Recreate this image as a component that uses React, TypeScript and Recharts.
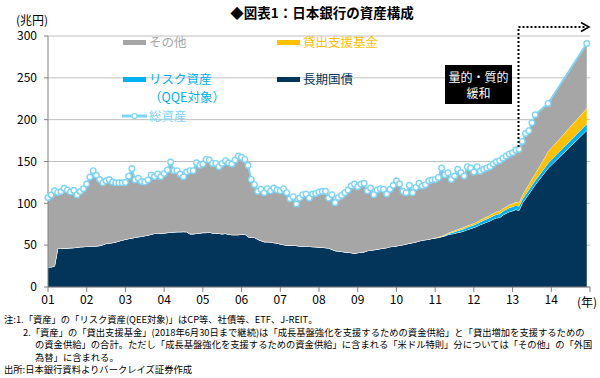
import React from "react";
import { ComposedChart, Area, Line, XAxis, YAxis, CartesianGrid } from "recharts";

// Bank of Japan balance sheet, trillion yen. Monthly Jan 2001 - Aug 2013,
// then end-2013 and end-2014 targets (month index 155 and 167).

const NAVY = "#03355A";
const CYAN = "#00B0F0";
const GOLD = "#FFC000";
const GRAY = "#A6A6A6";
const SKY = "#7FD4F6";
const FONT = "'Noto Sans CJK JP', 'Noto Sans', sans-serif";

const monthlyCount = 152;
const targetMonths = [155, 167];
const months = [...Array(monthlyCount).keys(), ...targetMonths];

// 総資産
const totalAssets = [
  107, 110, 115, 113, 114, 118, 116, 113.5, 115.5, 110, 114, 117.5,
  123, 131.5, 139, 133.5, 128.5, 124.5, 127, 128.5, 125.5, 124.5, 124.5, 124.5,
  125, 132.5, 141.5, 128, 130, 126, 125.5, 128, 134, 132, 135, 132,
  135.8, 139.8, 149.3, 139, 139, 135, 131.8, 137.4, 139, 139, 148.5, 145.4,
  147, 152.5, 151.7, 147.7, 147.7, 143.8, 147.7, 151, 148.5, 147, 151.7, 156.5,
  155, 152.5, 145.4, 128.6, 122.3, 114.3, 116.7, 112.7, 117.5, 115, 118.3, 115.9,
  115, 117.5, 112.7, 105.5, 107.9, 99.2, 106.3, 110.3, 111.1, 106.3, 111.1, 111.9,
  113.5, 114.3, 114.3, 106.3, 110.3, 100.8, 107.1, 109.5, 112.7, 115.9, 120.7, 123,
  119.9, 123, 123.9, 115, 118.3, 110.3, 115.9, 117.5, 116.7, 111.1, 116.7, 121.5,
  127, 123, 114.3, 112.7, 121.5, 112.7, 119, 123.9, 120.7, 122.3, 127, 127.8,
  128.6, 131, 142.2, 134.2, 136.6, 128.6, 132.6, 140.6, 136.6, 132.6, 143.8, 142.2,
  137.4, 143.8, 138.2, 140.6, 142.2, 143.8, 147, 149.7, 151, 154, 156.5, 159,
  160.5, 163.7, 164.5, 174, 183.6, 186.8, 196.3, 205.9,
  219.4, 291,
];

// 長期国債
const jgbHoldings = [
  24, 24, 25, 46, 46, 46.5, 46.5, 46.8, 47, 47.5, 48, 48.2,
  48.5, 48.8, 49, 49, 49.5, 50.5, 52, 52.5, 53, 53.8, 55, 56,
  57, 57.8, 58.5, 59.3, 60, 60.5, 61.3, 62, 63, 64, 64, 64.5,
  64.5, 65, 65.5, 65.7, 66, 66, 66.2, 66, 63.5, 63.5, 64, 64.5,
  65, 65, 65.5, 64.5, 64.5, 64, 63.5, 64, 63, 62.5, 62.5, 62.5,
  63, 63.3, 60, 59.5, 59.3, 57, 55.5, 54, 54, 53.8, 53, 52.5,
  51.4, 50.6, 50, 49.8, 50, 49.5, 49, 48.8, 48.5, 48.5, 48.2, 48,
  47.6, 47.4, 47, 46.6, 45, 43.4, 43, 42.5, 41.8, 41.5, 41, 40.2,
  41, 41.5, 42, 43.4, 44, 44.5, 45, 45.8, 46.5, 47, 48.2, 48.5,
  49, 50, 50.5, 51.4, 52.2, 53, 53.8, 55, 56, 56.5, 57, 58,
  58.5, 59.2, 60.1, 61, 62.5, 63.3, 64, 65, 65.7, 67, 68.5, 69.7,
  71, 72.5, 74.5, 76, 77.5, 79, 81, 82.5, 83, 86, 88, 90,
  91, 92.5, 91.5, 100, 105.5, 111, 116.5, 122,
  142, 187,
];

// リスク資産 and 貸出支援基金, from Jan 2011 (month 120); zero before
const newProgramsStart = 120;
const riskAssets = [
  0, 0, 0, 0.5, 1, 1.5, 2, 2.3, 2.6, 2.8, 3, 3.1,
  3.2, 3.4, 3.5, 3.7, 3.8, 4, 4.2, 4.4, 4.5, 4.6, 4.7, 4.8,
  5, 5, 5.1, 5, 5.1, 5.2, 5.3, 5.4,
  6, 8,
];
const lendingSupport = [
  0.3, 0.6, 0.8, 1, 1.1, 1.2, 1.4, 1.6, 1.8, 1.9, 2, 2,
  2, 2.1, 2.2, 2.4, 2.6, 2.8, 3, 3.1, 3.2, 3.2, 3.3, 3.5,
  3.7, 4, 4.2, 4.8, 5.6, 6.4, 7.2, 8,
  14, 18.5,
];

const yearLabels = ["01", "02", "03", "04", "05", "06", "07", "08", "09", "10", "11", "12", "13", "14"];
const yTicks = [0, 50, 100, 150, 200, 250, 300];

const notes = [
  { x: 4, y: 319, text: "注:1.「資産」の「リスク資産(QEE対象)」はCP等、社債等、ETF、J-REIT。" },
  { x: 23, y: 331.5, text: "2.「資産」の「貸出支援基金」(2018年6月30日まで継続)は「成長基盤強化を支援するための資金供給」と「貸出増加を支援するための" },
  { x: 35, y: 344, text: "の資金供給」の合計。ただし「成長基盤強化を支援するための資金供給」に含まれる「米ドル特則」分については「その他」の「外国" },
  { x: 35, y: 356.5, text: "為替」に含まれる。" },
  { x: 4, y: 369, text: "出所:日本銀行資料よりバークレイズ証券作成" },
];

const rows = months.map((m, i) => {
  const k = i - newProgramsStart;
  const jgb = jgbHoldings[i];
  const risk = k >= 0 ? riskAssets[k] : 0;
  const loan = k >= 0 ? lendingSupport[k] : 0;
  const total = totalAssets[i];
  return { m, jgb, risk, loan, other: total - jgb - risk - loan, total };
});

function Label({ x, y, color, size = 12.5, children, bold = false }: any) {
  return (
    <div
      style={{
        position: "absolute",
        left: x,
        top: y - 8,
        lineHeight: "16px",
        fontSize: size,
        color,
        fontFamily: FONT,
        fontWeight: bold ? 700 : 400,
        whiteSpace: "nowrap",
      }}
    >
      {children}
    </div>
  );
}

function Swatch({ x, y, color }: { x: number; y: number; color: string }) {
  return (
    <div style={{ position: "absolute", left: x, top: y - 2.5, width: 23, height: 5, background: color }} />
  );
}

export default function App() {
  return (
    <div style={{ position: "absolute", left: 0, top: 0, width: 600, height: 378, background: "#fff", overflow: "hidden" }}>
      <ComposedChart
        width={600}
        height={378}
        data={rows}
        margin={{ top: 36, right: 10, bottom: 71, left: 8 }}
      >
        <CartesianGrid vertical={false} stroke="#BFBFBF" />
        <XAxis
          dataKey="m"
          type="number"
          domain={[0, 168]}
          ticks={[...yearLabels.map((_, k) => k * 12), 168]}
          interval={0}
          tickFormatter={(v: number) => (v >= 168 ? "" : yearLabels[v / 12])}
          height={20}
          tickSize={5}
          tickMargin={3}
          stroke="#808080"
          tick={{ fontSize: 12, fill: "#000", fontFamily: FONT }}
        />
        <YAxis
          type="number"
          domain={[0, 300]}
          ticks={yTicks}
          interval={0}
          width={40}
          tickSize={4}
          tickMargin={7}
          stroke="#808080"
          tick={{ fontSize: 12, fill: "#000", fontFamily: FONT }}
        />
        <Area type="linear" dataKey="jgb" stackId="a" fill={NAVY} fillOpacity={1} stroke="#fff" strokeWidth={1} isAnimationActive={false} />
        <Area type="linear" dataKey="risk" stackId="a" fill={CYAN} fillOpacity={1} stroke="#fff" strokeWidth={0.8} isAnimationActive={false} />
        <Area type="linear" dataKey="loan" stackId="a" fill={GOLD} fillOpacity={1} stroke="#fff" strokeWidth={0.8} isAnimationActive={false} />
        <Area type="linear" dataKey="other" stackId="a" fill={GRAY} fillOpacity={1} stroke="none" isAnimationActive={false} />
        <Line
          type="linear"
          dataKey="total"
          stroke={SKY}
          strokeWidth={2}
          dot={{ r: 2.8, fill: "#fff", stroke: SKY, strokeWidth: 1.4 }}
          isAnimationActive={false}
        />
      </ComposedChart>

      {/* title and unit */}
      <div
        style={{
          position: "absolute",
          left: 222,
          top: 3,
          width: 200,
          textAlign: "center",
          fontSize: 13.5,
          fontWeight: 700,
          fontFamily: FONT,
          lineHeight: "18px",
          whiteSpace: "nowrap",
        }}
      >
        ◆図表1：日本銀行の資産構成
      </div>
      <Label x={16} y={20} color="#000" size={12}>(兆円)</Label>

      {/* legend */}
      <Swatch x={123} y={42} color={GRAY} />
      <Label x={149} y={42} color={GRAY}>その他</Label>
      <Swatch x={277} y={42} color={GOLD} />
      <Label x={303} y={42} color={GOLD}>貸出支援基金</Label>
      <Swatch x={123} y={79} color={CYAN} />
      <Label x={149} y={79} color={CYAN}>リスク資産</Label>
      <Label x={149} y={97} color={CYAN}>（QQE対象）</Label>
      <Swatch x={277} y={79} color={NAVY} />
      <Label x={303} y={79} color={NAVY}>長期国債</Label>
      <svg style={{ position: "absolute", left: 0, top: 0 }} width={600} height={378}>
        <line x1={122} y1={116} x2={147} y2={116} stroke={SKY} strokeWidth={3} />
        <circle cx={134.5} cy={116} r={2.5} fill="#fff" stroke={SKY} strokeWidth={1.2} />
        {/* QQE arrow */}
        <line x1={518.5} y1={147} x2={518.5} y2={27} stroke="#000" strokeWidth={2} strokeDasharray="2 2" />
        <line x1={518.5} y1={27} x2={586} y2={27} stroke="#000" strokeWidth={2} strokeDasharray="2 2" />
        <polyline points="581,22.5 589,27 581,31.5" fill="none" stroke="#000" strokeWidth={1.6} />
        <rect x={445} y={65} width={67} height={39} fill="#000" />
      </svg>
      <div
        style={{
          position: "absolute",
          left: 445,
          top: 69,
          width: 67,
          textAlign: "center",
          color: "#fff",
          fontSize: 12,
          lineHeight: "16px",
          fontFamily: FONT,
          whiteSpace: "nowrap",
        }}
      >
        量的・質的
        <br />
        緩和
      </div>
      <Label x={149} y={116} color={SKY}>総資産</Label>

      {/* year unit */}
      <Label x={577} y={302} color="#000" size={12}>(年)</Label>

      {/* notes */}
      {notes.map((n) => (
        <div
          key={n.y}
          style={{
            position: "absolute",
            left: n.x,
            top: n.y - 6,
            lineHeight: "12px",
            fontSize: 9.3,
            fontFamily: FONT,
            color: "#000",
            whiteSpace: "nowrap",
          }}
        >
          {n.text}
        </div>
      ))}
    </div>
  );
}
